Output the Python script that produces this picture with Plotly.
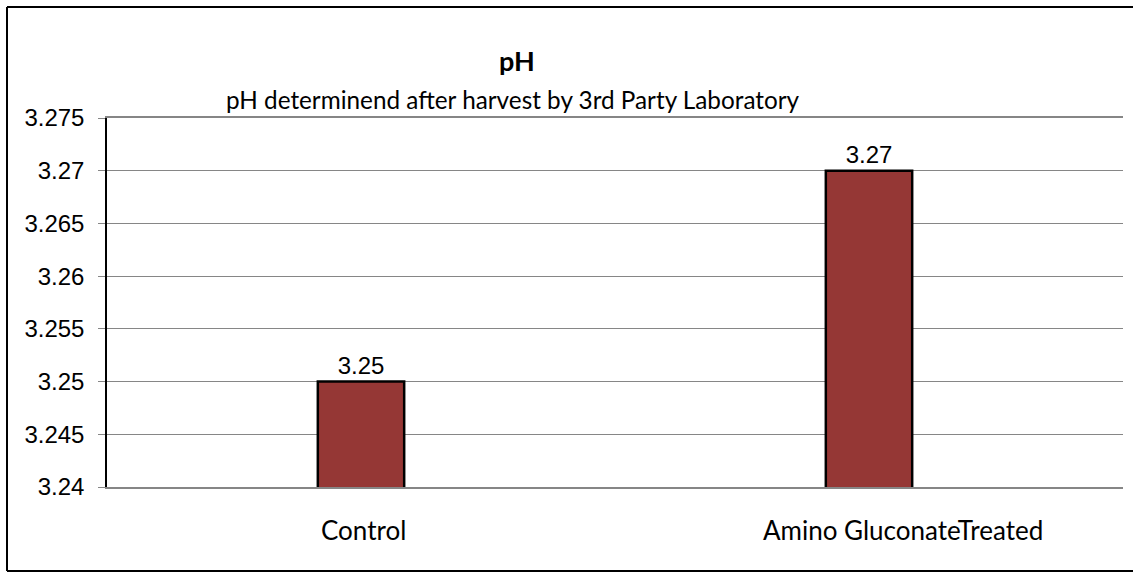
import plotly.graph_objects as go

categories = ["Control", "Amino GluconateTreated"]
ph_values = [3.25, 3.27]
value_labels = ["3.25", "3.27"]
tick_values = [3.24, 3.245, 3.25, 3.255, 3.26, 3.265, 3.27, 3.275]
tick_labels = ["3.24", "3.245", "3.25", "3.255", "3.26", "3.265", "3.27", "3.275"]
label_shifts = [2, 34]

W, H = 1133, 573
L, R, T, B = 107, 10, 118, 86
pw, ph = W - L - R, H - T - B

def px_x(x):
    return (x - L) / pw

def px_y(y):
    return (H - B - y) / ph

fig = go.Figure()
fig.add_trace(go.Bar(
    x=categories,
    y=ph_values,
    marker=dict(color="#953735", line=dict(color="#000000", width=2.5)),
    text=value_labels,
    textposition="outside",
    textfont=dict(family="Liberation Sans, Arial", size=24, color="#000000"),
    cliponaxis=False,
    hoverinfo="x+y",
))

annotations = [
    dict(text="<b>pH</b>", x=px_x(517), y=px_y(60), xref="paper", yref="paper",
         xanchor="center", yanchor="middle", showarrow=False,
         font=dict(family="Lato, Carlito, sans-serif", size=27, color="#000000")),
    dict(text="pH determinend after harvest by 3rd Party Laboratory",
         x=px_x(513), y=px_y(99), xref="paper", yref="paper",
         xanchor="center", yanchor="middle", showarrow=False,
         font=dict(family="Lato, Carlito, sans-serif", size=24.3, color="#000000")),
]
for cat, sh in zip(categories, label_shifts):
    annotations.append(dict(
        text=cat, x=cat, xref="x", y=px_y(530), yref="paper",
        xanchor="center", yanchor="middle", xshift=sh, showarrow=False,
        font=dict(family="Lato, Carlito, sans-serif", size=26, color="#000000")))

border = dict(type="line", xref="paper", yref="paper",
              line=dict(color="#000000", width=2), layer="below")

fig.update_layout(
    width=W, height=H,
    margin=dict(l=L, r=R, t=T, b=B),
    paper_bgcolor="#ffffff",
    plot_bgcolor="#ffffff",
    showlegend=False,
    bargap=0.83,
    xaxis=dict(
        showline=True, linecolor="#868686", linewidth=1.5, mirror=True,
        ticks="", showgrid=False, showticklabels=False,
    ),
    yaxis=dict(
        range=[3.24, 3.275],
        tickvals=tick_values, ticktext=tick_labels,
        showline=True, linecolor="#000000", linewidth=1.5,
        ticks="outside", ticklen=7, tickcolor="#868686",
        showgrid=True, gridcolor="#868686", gridwidth=1,
        tickfont=dict(family="Liberation Sans, Arial", size=24, color="#000000"),
        ticklabelstandoff=9,
        zeroline=False,
    ),
    annotations=annotations,
    shapes=[
        dict(border, x0=px_x(7), x1=px_x(7), y0=px_y(571), y1=px_y(7)),
        dict(border, x0=px_x(7), x1=px_x(1133), y0=px_y(7), y1=px_y(7)),
        dict(border, x0=px_x(7), x1=px_x(1133), y0=px_y(571), y1=px_y(571)),
    ],
)

fig.write_html("out.html", config={"displayModeBar": False},
               post_script="document.body.style.margin='0';")
